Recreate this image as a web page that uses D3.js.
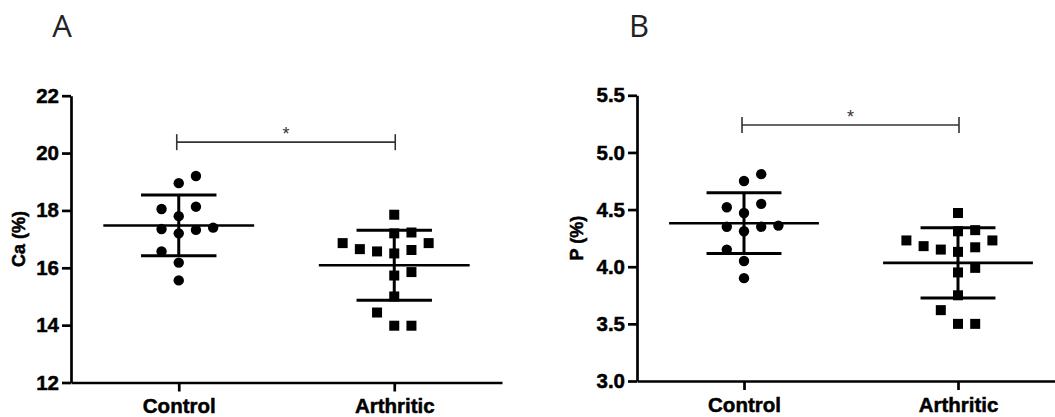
<!DOCTYPE html>
<html>
<head>
<meta charset="utf-8">
<script src="https://cdn.jsdelivr.net/npm/d3@7"></script>
<style>
  html, body { margin: 0; padding: 0; background: #fff; }
  svg { display: block; }
</style>
</head>
<body>
<svg id="chart" width="1055" height="417"></svg>
<script>
// ---------- data ----------
const categories = ["Control", "Arthritic"];

// Panel A: Ca (%)
const caTicks = [12, 14, 16, 18, 20, 22];
const caControl    = [19.2, 18.95, 18.05, 18.13, 17.8, 17.35, 17.2, 17.32, 17.4, 16.57, 16.18, 15.56];
const caControlCol = [1, 0, -1, 1, 0, -1, 0, 1, 2, -1, 0, 0];
const caArthritic    = [17.85, 17.2, 17.23, 16.86, 16.65, 16.57, 16.5, 16.62, 16.86, 15.73, 15.85, 15.0, 14.44, 13.98, 13.98];
const caArthriticCol = [0, 0, 1, -3, -2, -1, 0, 1, 2, 0, 1, 0, -1, 0, 1];
const caBracket = 20.38;

// Panel B: P (%)
const pTicks = [3.0, 3.5, 4.0, 4.5, 5.0, 5.5];
const pControl    = [4.81, 4.75, 4.52, 4.55, 4.47, 4.35, 4.31, 4.35, 4.36, 4.15, 4.05, 3.90];
const pControlCol = [1, 0, -1, 1, 0, -1, 0, 1, 2, -1, 0, 0];
const pArthritic    = [4.47, 4.31, 4.32, 4.23, 4.18, 4.15, 4.13, 4.17, 4.23, 3.95, 3.99, 3.75, 3.62, 3.50, 3.50];
const pArthriticCol = [0, 0, 1, -3, -2, -1, 0, 1, 2, 0, 1, 0, -1, 0, 1];
const pBracket = 5.24;

// ---------- drawing ----------
const svg = d3.select("#chart");
const FONT = "'Liberation Sans', Arial, Helvetica, sans-serif";

function boldText(sel, size) {
  sel.attr("font-family", FONT).attr("font-weight", "bold").attr("font-size", size)
    .attr("fill", "#000").attr("stroke", "#000").attr("stroke-width", 0.5)
    .attr("paint-order", "stroke");
}

function drawPanel(opt) {
  const g = svg.append("g");
  const x = d3.scalePoint().domain(categories).range(opt.xRange).padding(0.5);
  const y = d3.scaleLinear().domain(opt.yDomain).range(opt.yRange);
  const step = x.step();
  const colW = 17.2;

  // panel letter
  g.append("text")
    .attr("x", opt.letterX).attr("y", 37)
    .attr("text-anchor", "middle")
    .attr("font-family", "'Open Sans', sans-serif")
    .attr("font-size", 31)
    .attr("fill", "#222")
    .text(opt.letter);

  // y axis
  const ya = g.append("g")
    .attr("transform", `translate(${opt.xRange[0]},0)`)
    .call(d3.axisLeft(y).tickValues(opt.ticks).tickFormat(opt.fmt).tickSize(9).tickSizeOuter(0).tickPadding(3));
  ya.selectAll("path, line").attr("stroke", "#000").attr("stroke-width", 2.7);
  boldText(ya.selectAll("text"), 20.5);

  // x axis
  const xa = g.append("g")
    .attr("transform", `translate(0,${opt.yRange[0]})`)
    .call(d3.axisBottom(x).tickSize(9).tickSizeOuter(0).tickPadding(7));
  xa.selectAll("path, line").attr("stroke", "#000").attr("stroke-width", 2.7);
  boldText(xa.selectAll("text"), 20.5);

  // y label
  const yl = g.append("text")
    .attr("transform", `translate(${opt.labelX},${(opt.yRange[0] + opt.yRange[1]) / 2}) rotate(-90)`)
    .attr("text-anchor", "middle")
    .text(opt.ylabel);
  boldText(yl, 18);

  // groups
  opt.groups.forEach((grp, gi) => {
    const cx = x(categories[gi]);
    const m = d3.mean(grp.values);
    const sd = d3.deviation(grp.values);

    // points
    if (grp.shape === "circle") {
      g.selectAll(null).data(grp.values).join("circle")
        .attr("cx", (d, i) => cx + grp.cols[i] * colW)
        .attr("cy", d => y(d))
        .attr("r", 5.2)
        .attr("fill", "#000");
    } else {
      const s = 10;
      g.selectAll(null).data(grp.values).join("rect")
        .attr("x", (d, i) => cx + grp.cols[i] * colW - s / 2)
        .attr("y", d => y(d) - s / 2)
        .attr("width", s).attr("height", s)
        .attr("fill", "#000");
    }

    // mean & SD
    g.append("line").attr("x1", cx - step * 0.35).attr("x2", cx + step * 0.35)
      .attr("y1", y(m)).attr("y2", y(m)).attr("stroke", "#000").attr("stroke-width", 2.6);
    g.append("line").attr("x1", cx).attr("x2", cx)
      .attr("y1", y(m + sd)).attr("y2", y(m - sd)).attr("stroke", "#000").attr("stroke-width", 3);
    [m + sd, m - sd].forEach(v => {
      g.append("line").attr("x1", cx - step * 0.175).attr("x2", cx + step * 0.175)
        .attr("y1", y(v)).attr("y2", y(v)).attr("stroke", "#000").attr("stroke-width", 3);
    });
  });

  // significance bracket
  const bx1 = x(categories[0]) - 2, bx2 = x(categories[1]) + 1, by = y(opt.bracket);
  g.append("line").attr("x1", bx1).attr("x2", bx2).attr("y1", by).attr("y2", by)
    .attr("stroke", "#333").attr("stroke-width", 1.6);
  [bx1, bx2].forEach(bx => {
    g.append("line").attr("x1", bx).attr("x2", bx).attr("y1", by - 8).attr("y2", by + 8)
      .attr("stroke", "#333").attr("stroke-width", 1.6);
  });
  g.append("text")
    .attr("x", (bx1 + bx2) / 2).attr("y", by - 2.5)
    .attr("text-anchor", "middle")
    .attr("font-family", FONT).attr("font-size", 18).attr("fill", "#333")
    .text("*");
}

drawPanel({
  letter: "A", letterX: 62,
  xRange: [71, 502], yRange: [382.5, 95.7], yDomain: [12, 22],
  ticks: caTicks, fmt: d3.format("d"),
  ylabel: "Ca (%)", labelX: 25,
  bracket: caBracket,
  groups: [
    { values: caControl, cols: caControlCol, shape: "circle" },
    { values: caArthritic, cols: caArthriticCol, shape: "square" }
  ]
});

drawPanel({
  letter: "B", letterX: 639,
  xRange: [637, 1065], yRange: [381, 95.3], yDomain: [3.0, 5.5],
  ticks: pTicks, fmt: d3.format(".1f"),
  ylabel: "P (%)", labelX: 583,
  bracket: pBracket,
  groups: [
    { values: pControl, cols: pControlCol, shape: "circle" },
    { values: pArthritic, cols: pArthriticCol, shape: "square" }
  ]
});
</script>
</body>
</html>
